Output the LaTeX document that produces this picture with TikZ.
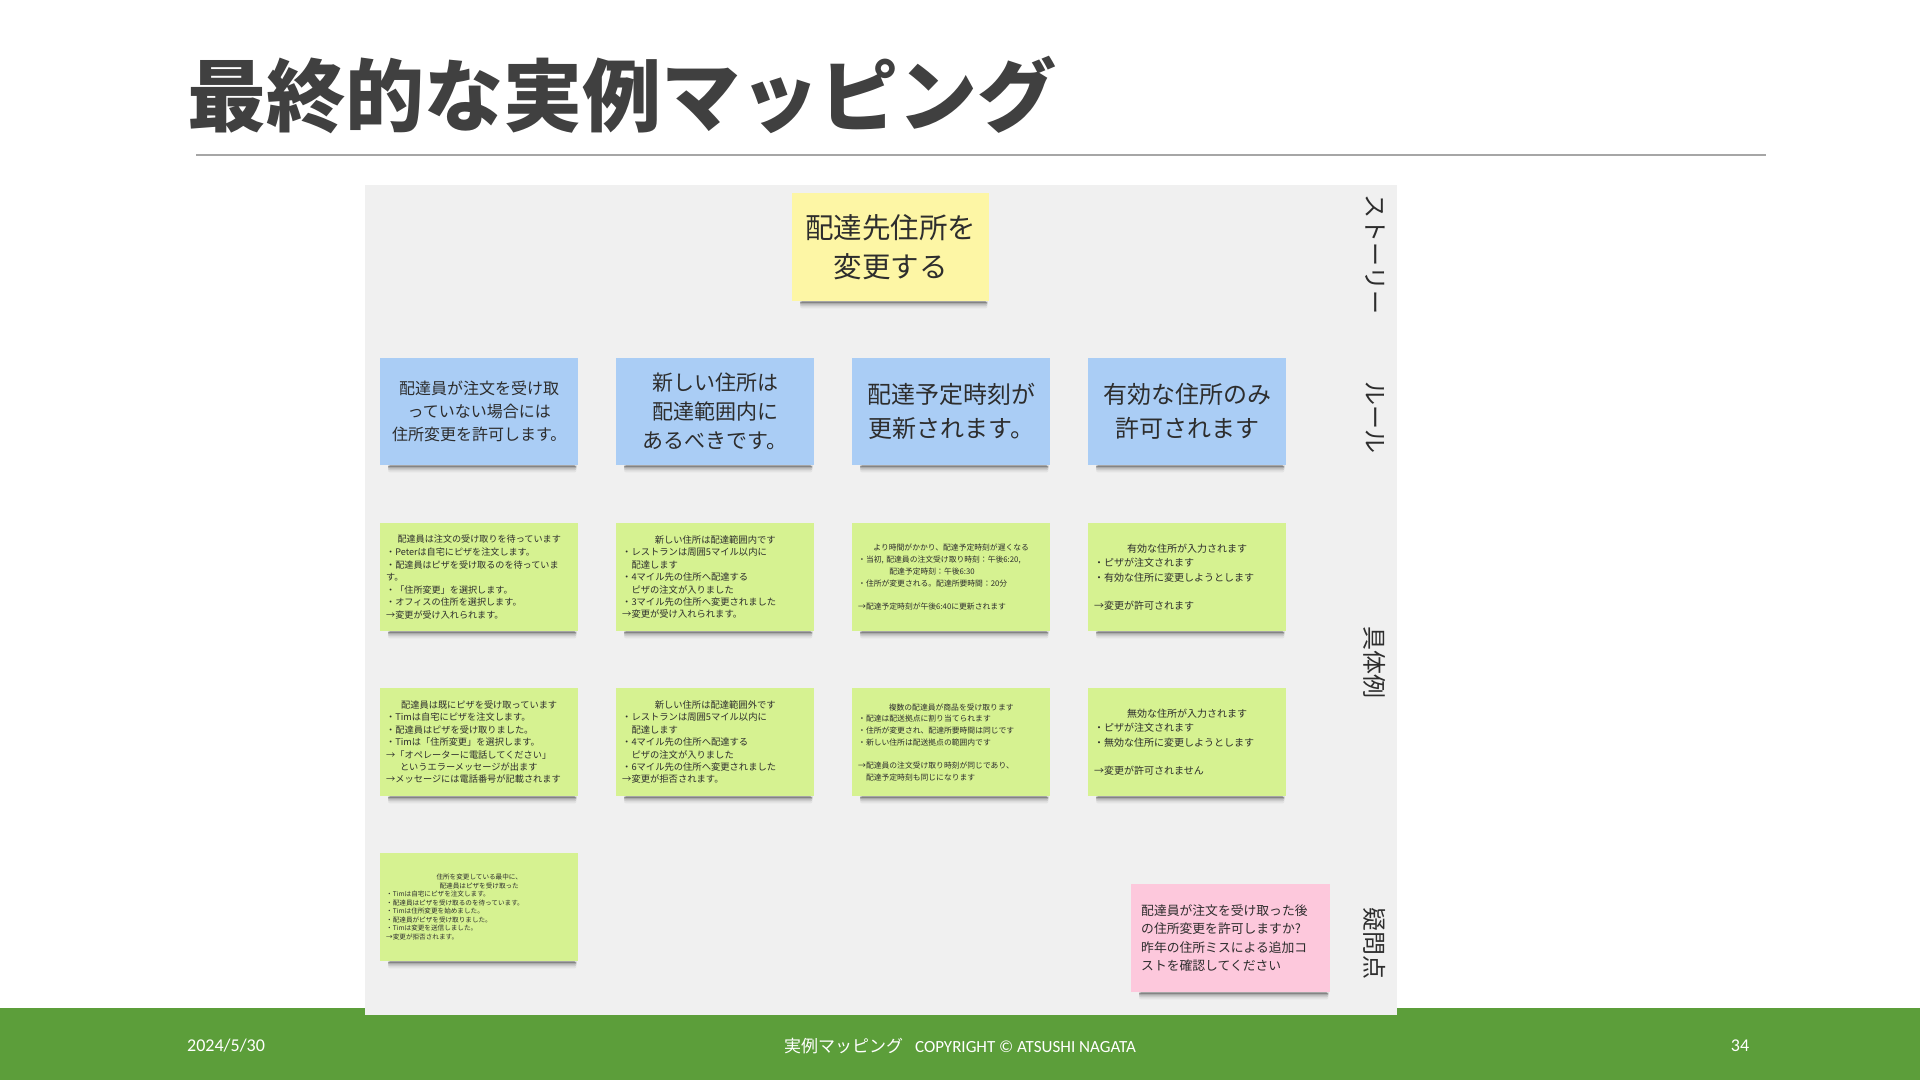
\documentclass[tikz,border=0pt]{standalone}
\usepackage{fontspec}
\setmainfont{Carlito}
\newfontfamily\cjk{Noto Sans CJK JP}
\newcommand\jpf[2]{\cjk\fontsize{#1}{#2}\selectfont}
\definecolor{board}{RGB}{240,240,240}
\definecolor{nyellow}{RGB}{253,246,165}
\definecolor{nblue}{RGB}{170,205,245}
\definecolor{ngreen}{RGB}{214,242,145}
\definecolor{npink}{RGB}{253,200,220}
\definecolor{txt}{RGB}{45,45,45}
\definecolor{titlec}{RGB}{64,64,64}
\definecolor{foot}{RGB}{92,158,58}
\newcommand\noteshadow[1]{%
  \foreach \d/\o in {1.5/0.22,3/0.16,5/0.1,7/0.05}{%
    \fill[black,opacity=\o,rounded corners=2pt] ([xshift=8pt]#1.south west) rectangle ([xshift=-2pt,yshift=-\d pt]#1.south east);}}
\tikzset{
  note/.style={rectangle, anchor=north west, inner ysep=0pt, text=txt},
  gnote/.style={note, fill=ngreen, minimum width=198, minimum height=108, inner xsep=6pt, text width=186, align=left},
  bnote/.style={note, fill=nblue, minimum width=198, minimum height=107, inner xsep=4pt, text width=190, align=center},
  side/.style={rotate=-90, text=txt, font=\jpf{24}{28}, inner sep=0pt}
}
\begin{document}
\begin{tikzpicture}[x=1pt,y=-1pt]
\useasboundingbox (0,0) rectangle (1920,1080);
\fill[white] (0,0) rectangle (1920,1080);
% title
\node[anchor=west, inner sep=0pt, text=titlec, font=\jpf{79}{90}\bfseries] (title) at (187,95) {最終的な実例マッピング};
\coordinate (tl) at (196,155);
\coordinate (tr) at (1766,155);
\draw[gray!70, line width=1.5pt] (tl) -- (tr);
% footer
\fill[foot] (0,1008) rectangle (1920,1080);
% board
\fill[board] (365,185) rectangle (1397,1015);
\node[anchor=west, inner sep=0pt, text=white, font=\fontsize{18}{20}\selectfont] (date) at (187,1046) {2024/5/30};
\node[inner sep=0pt, text=white, font=\fontsize{17}{20}\selectfont] (copy) at (960,1046) {{\jpf{17}{20}実例マッピング}\hspace{12pt}COPYRIGHT © ATSUSHI NAGATA};
\node[inner sep=0pt, text=white, font=\fontsize{18}{20}\selectfont] (page) at (1740,1046) {34};
% story
\node[note, fill=nyellow, minimum width=197, minimum height=108, inner xsep=4pt, text width=189, align=center, font=\jpf{28.5}{39}] (story) at (792,193) {配達先住所を\\変更する};
% rules
\node[bnote, font=\jpf{16}{23}] (r1) at (380,358) {配達員が注文を受け取\\っていない場合には\\住所変更を許可します。};
\node[bnote, font=\jpf{21}{29}] (r2) at (616,358) {新しい住所は\\配達範囲内に\\あるべきです。};
\node[bnote, font=\jpf{24}{34}] (r3) at (852,358) {配達予定時刻が\\更新されます。};
\node[bnote, font=\jpf{24}{34}] (r4) at (1088,358) {有効な住所のみ\\許可されます};
% examples row 1
\node[gnote, font=\jpf{9.1}{12.6}] (g11) at (380,523) {\centerline{配達員は注文の受け取りを待っています}
・Peterは自宅にピザを注文します。\\
・配達員はピザを受け取るのを待っていま\\
す。\\
・「住所変更」を選択します。\\
・オフィスの住所を選択します。\\
→変更が受け入れられます。};
\node[gnote, font=\jpf{9.3}{12.4}] (g21) at (616,523) {\centerline{新しい住所は配達範囲内です}
・レストランは周囲5マイル以内に\\
\hspace*{1em}配達します\\
・4マイル先の住所へ配達する\\
\hspace*{1em}ピザの注文が入りました\\
・3マイル先の住所へ変更されました\\
→変更が受け入れられます。};
\node[gnote, font=\jpf{7.8}{11.8}] (g31) at (852,523) {\centerline{より時間がかかり、配達予定時刻が遅くなる}
・当初, 配達員の注文受け取り時刻：午後6:20,\\
\hspace*{4em}配達予定時刻：午後6:30\\
・住所が変更される。配達所要時間：20分\\[11.8pt]
→配達予定時刻が午後6:40に更新されます};
\node[gnote, font=\jpf{10}{14.2}] (g41) at (1088,523) {\centerline{有効な住所が入力されます}
・ピザが注文されます\\
・有効な住所に変更しようとします\\[14.2pt]
→変更が許可されます};
% examples row 2
\node[gnote, font=\jpf{9.2}{12.4}] (g12) at (380,688) {\centerline{配達員は既にピザを受け取っています}
・Timは自宅にピザを注文します。\\
・配達員はピザを受け取りました。\\
・Timは「住所変更」を選択します。\\
→「オペレーターに電話してください」\\
\hspace*{1.5em}というエラーメッセージが出ます\\
→メッセージには電話番号が記載されます};
\node[gnote, font=\jpf{9.3}{12.4}] (g22) at (616,688) {\centerline{新しい住所は配達範囲外です}
・レストランは周囲5マイル以内に\\
\hspace*{1em}配達します\\
・4マイル先の住所へ配達する\\
\hspace*{1em}ピザの注文が入りました\\
・6マイル先の住所へ変更されました\\
→変更が拒否されます。};
\node[gnote, font=\jpf{7.8}{11.7}] (g32) at (852,688) {\centerline{複数の配達員が商品を受け取ります}
・配達は配送拠点に割り当てられます\\
・住所が変更され、配達所要時間は同じです\\
・新しい住所は配送拠点の範囲内です\\[11.7pt]
→配達員の注文受け取り時刻が同じであり、\\
\hspace*{1em}配達予定時刻も同じになります};
\node[gnote, font=\jpf{10}{14.2}] (g42) at (1088,688) {\centerline{無効な住所が入力されます}
・ピザが注文されます\\
・無効な住所に変更しようとします\\[14.2pt]
→変更が許可されません};
% examples row 3
\node[gnote, font=\jpf{6.6}{8.5}] (g13) at (380,853) {\centerline{住所を変更している最中に、}
\centerline{配達員はピザを受け取った}
・Timは自宅にピザを注文します。\\
・配達員はピザを受け取るのを待っています。\\
・Timは住所変更を始めました。\\
・配達員がピザを受け取りました。\\
・Timは変更を送信しました。\\
→変更が拒否されます。};
% question
\node[note, fill=npink, minimum width=199, minimum height=108, inner xsep=10pt, text width=179, align=left, font=\jpf{12.8}{18.4}] (q1) at (1131,884) {配達員が注文を受け取った後\\の住所変更を許可しますか?\\昨年の住所ミスによる追加コ\\ストを確認してください};
% shadows
\foreach \n in {story,r1,r2,r3,r4,g11,g21,g31,g41,g12,g22,g32,g42,g13,q1}{\noteshadow{\n}}
% side labels
\node[side] (s1) at (1375,254) {ストーリー};
\node[side] (s2) at (1375,417) {ルール};
\node[side] (s3) at (1375,662) {具体例};
\node[side] (s4) at (1375,943) {疑問点};
\end{tikzpicture}
\end{document}
